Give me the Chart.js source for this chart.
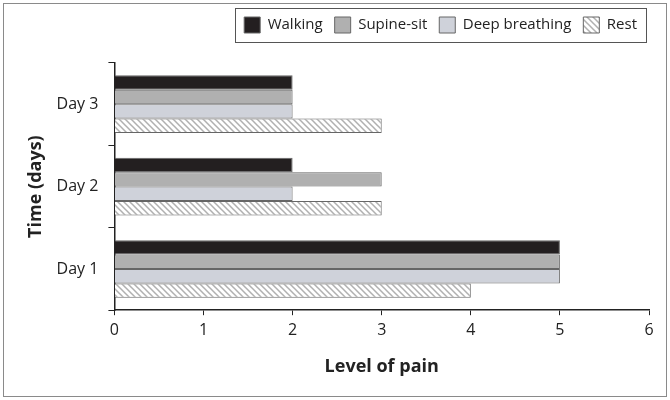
<!DOCTYPE html>
<html>
<head>
<meta charset="utf-8">
<script src="https://cdn.jsdelivr.net/npm/chart.js@4"></script>
<style>
  html, body { margin: 0; padding: 0; background: #fff; }
  #wrap { width: 670px; height: 400px; }
</style>
</head>
<body>
<div id="wrap"><canvas id="chart-area"></canvas></div>
<script>
var days = ["Day 3", "Day 2", "Day 1"];
var walking = [2, 2, 5];
var supineSit = [2, 3, 5];
var deepBreathing = [2, 2, 5];
var rest = [3, 3, 4];
var xTicks = [0, 1, 2, 3, 4, 5, 6];

// diagonal hatch for the "Rest" bars
function hatch() {
    var c = document.createElement("canvas");
    c.width = 6; c.height = 6;
    var g = c.getContext("2d");
    g.fillStyle = "#fff";
    g.fillRect(0, 0, 6, 6);
    g.strokeStyle = "#b0b0b0";
    g.lineWidth = 1.5;
    g.beginPath();
    g.moveTo(-1, -1); g.lineTo(7, 7);
    g.moveTo(-4, 2); g.lineTo(2, 8);
    g.moveTo(4, -2); g.lineTo(8, 2);
    g.stroke();
    return g.createPattern(c, "repeat");
}

// border round the legend items and round the whole picture
var frame = {
    id: "frame",
    beforeInit: function (chart) {
        var orig = chart.legend.fit;
        chart.legend.fit = function () {
            orig.call(this);
            this.height += 20;
        };
    },
    afterDraw: function (chart) {
        var ctx = chart.ctx;
        ctx.save();
        ctx.strokeStyle = "#8a8a8a";
        ctx.lineWidth = 1;
        ctx.strokeRect(3.5, 3.5, 663, 393);
        var boxes = chart.legend.legendHitBoxes;
        if (boxes && boxes.length) {
            var x0 = boxes[0].left - 9;
            var last = boxes[boxes.length - 1];
            var x1 = last.left + last.width + 9;
            var y0 = boxes[0].top - 9;
            var y1 = boxes[0].top + boxes[0].height + 9;
            ctx.strokeStyle = "#555";
            ctx.strokeRect(Math.round(x0) + 0.5, Math.round(y0) + 0.5, Math.round(x1 - x0), Math.round(y1 - y0));
        }
        ctx.restore();
    }
};

var ctx = document.getElementById("chart-area");
var myChart = new Chart(ctx, {
    type: "bar",
    data: {
        labels: days,
        datasets: [
            { label: "Walking", data: walking, backgroundColor: "#231f20" },
            { label: "Supine-sit", data: supineSit, backgroundColor: "#b0b0b0" },
            { label: "Deep breathing", data: deepBreathing, backgroundColor: "#cfd2da" },
            { label: "Rest", data: rest, backgroundColor: hatch() }
        ].map(function (d) {
            d.borderColor = "#666";
            d.borderWidth = 1;
            d.categoryPercentage = 0.7;
            d.barPercentage = 1.0;
            return d;
        })
    },
    options: {
        indexAxis: "y",
        responsive: true,
        maintainAspectRatio: false,
        animation: false,
        layout: { padding: { left: 21, right: 21, top: 5, bottom: 18 } },
        plugins: {
            legend: {
                position: "top",
                align: "end",
                labels: {
                    color: "#222",
                    font: { family: "Open Sans", size: 15 },
                    boxWidth: 16,
                    boxHeight: 16,
                    padding: 12
                }
            },
            tooltip: { enabled: false }
        },
        scales: {
            x: {
                min: 0,
                max: 6,
                afterBuildTicks: function (axis) {
                    axis.ticks = xTicks.map(function (v) { return { value: v }; });
                },
                grid: { drawOnChartArea: false, drawTicks: true, tickLength: 5, color: "#222" },
                border: { color: "#222", width: 1.5 },
                ticks: { color: "#222", font: { family: "Open Sans", size: 16 }, padding: 6 },
                title: {
                    display: true,
                    text: "Level of pain",
                    color: "#222",
                    font: { family: "Open Sans", size: 18, weight: "bold" },
                    padding: { top: 10 }
                }
            },
            y: {
                grid: { drawOnChartArea: false, drawTicks: true, tickLength: 6, color: "#222", offset: true },
                border: { color: "#222", width: 1.5 },
                ticks: { color: "#222", font: { family: "Open Sans", size: 16 }, padding: 10 },
                title: {
                    display: true,
                    text: "Time (days)",
                    color: "#222",
                    font: { family: "Open Sans", size: 18, weight: "bold" },
                    padding: { bottom: 0 }
                }
            }
        }
    },
    plugins: [frame]
});
</script>
</body>
</html>
